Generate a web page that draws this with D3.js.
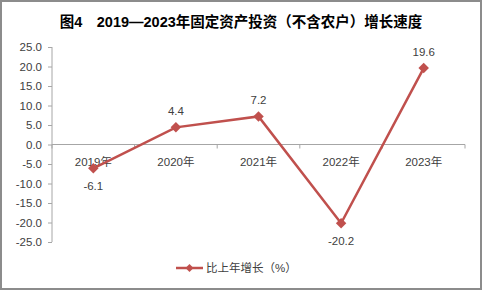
<html>
<head>
<meta charset="utf-8">
<script src="https://cdn.jsdelivr.net/npm/d3@7"></script>
<style>
  body { margin: 0; background: #fff; }
  text { font-family: "Liberation Sans", "Noto Sans CJK SC", sans-serif; }
</style>
</head>
<body>
<script>
var w = 482, h = 290;

// chart data
var years = ["2019年", "2020年", "2021年", "2022年", "2023年"];
var growth = [-6.1, 4.4, 7.2, -20.2, 19.6];
var yTicks = [25, 20, 15, 10, 5, 0, -5, -10, -15, -20, -25];
var seriesName = "比上年增长（%）";
var title = "图4　2019—2023年固定资产投资（不含农户）增长速度";

var color = "#c0504d";

var svg = d3.select("body").append("svg")
  .attr("width", w)
  .attr("height", h);

svg.append("rect")
  .attr("x", 1).attr("y", 1)
  .attr("width", w - 2).attr("height", h - 2)
  .attr("fill", "#fff")
  .attr("stroke", "#8c8c8c")
  .attr("stroke-width", 2);

svg.append("text")
  .attr("x", 241).attr("y", 27)
  .attr("text-anchor", "middle")
  .attr("font-size", 14.5)
  .attr("font-weight", "bold")
  .attr("fill", "#000")
  .text(title);

var x = d3.scaleBand().domain(years).range([52, 465]);
var y = d3.scaleLinear().domain([-25, 25]).range([242, 47]);

// y axis
var yAxis = svg.append("g")
  .attr("transform", "translate(52,0)")
  .call(d3.axisLeft(y).tickValues(yTicks).tickSize(4).tickPadding(6)
    .tickFormat(d3.format(".1f")));
yAxis.select(".domain").attr("stroke", "#a6a6a6").attr("d", "M0," + y(25) + "V" + y(-25));
yAxis.selectAll(".tick line").attr("stroke", "#a6a6a6");
yAxis.selectAll(".tick text")
  .attr("fill", "#404040")
  .attr("font-size", 11.5)
  .text(function(d){ return d3.format(".1f")(d).replace("−", "-"); });

// x axis at zero
var xg = svg.append("g").attr("transform", "translate(0," + y(0) + ")");
xg.append("line")
  .attr("x1", 52).attr("x2", 465)
  .attr("stroke", "#a6a6a6");
xg.selectAll(".xtick")
  .data(d3.range(years.length + 1))
  .enter().append("line")
  .attr("class", "xtick")
  .attr("x1", function(i){ return 52 + i * x.bandwidth(); })
  .attr("x2", function(i){ return 52 + i * x.bandwidth(); })
  .attr("y1", 0).attr("y2", 4)
  .attr("stroke", "#a6a6a6");
xg.selectAll(".xlabel")
  .data(years)
  .enter().append("text")
  .attr("class", "xlabel")
  .attr("x", function(d){ return x(d) + x.bandwidth() / 2; })
  .attr("y", 21)
  .attr("text-anchor", "middle")
  .attr("font-size", 11.5)
  .attr("fill", "#404040")
  .text(function(d){ return d; });

// line
var line = d3.line()
  .x(function(d, i){ return x(years[i]) + x.bandwidth() / 2; })
  .y(function(d){ return y(d); });

svg.append("path")
  .datum(growth)
  .attr("d", line)
  .attr("fill", "none")
  .attr("stroke", color)
  .attr("stroke-width", 2.5);

var diamond = d3.symbol().type(d3.symbolDiamond2).size(70);
svg.selectAll(".pt")
  .data(growth)
  .enter().append("path")
  .attr("class", "pt")
  .attr("transform", function(d, i){ return "translate(" + (x(years[i]) + x.bandwidth() / 2) + "," + y(d) + ")"; })
  .attr("d", diamond)
  .attr("fill", color);

svg.selectAll(".vlabel")
  .data(growth)
  .enter().append("text")
  .attr("class", "vlabel")
  .attr("x", function(d, i){ return x(years[i]) + x.bandwidth() / 2; })
  .attr("y", function(d){ return d < 0 ? y(d) + 22 : y(d) - 12; })
  .attr("text-anchor", "middle")
  .attr("font-size", 11.5)
  .attr("fill", "#404040")
  .text(function(d){ return d.toFixed(1); });

// legend
var lg = svg.append("g").attr("transform", "translate(176,268)");
lg.append("line")
  .attr("x1", 0).attr("x2", 27)
  .attr("stroke", color).attr("stroke-width", 2.5);
lg.append("path")
  .attr("transform", "translate(13.5,0)")
  .attr("d", d3.symbol().type(d3.symbolDiamond2).size(40))
  .attr("fill", color);
lg.append("text")
  .attr("x", 30).attr("y", 4)
  .attr("font-size", 11.5)
  .attr("fill", "#404040")
  .text(seriesName);
</script>
</body>
</html>
